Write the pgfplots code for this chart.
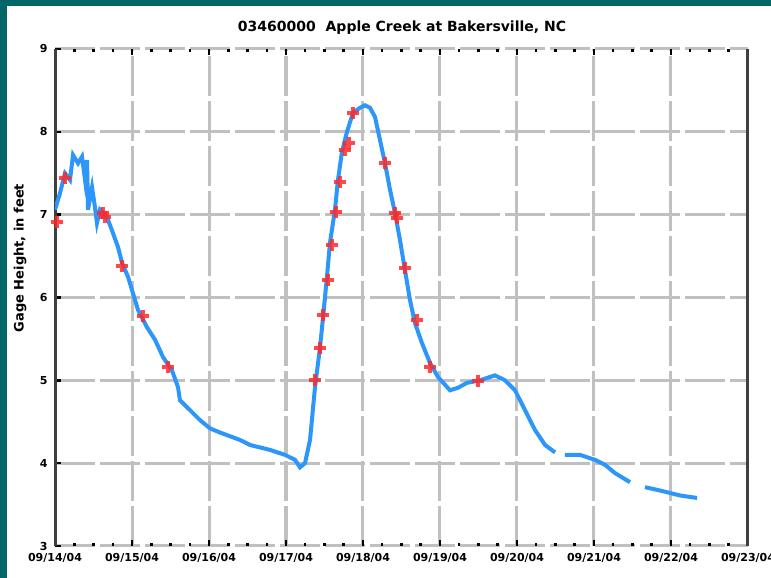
\documentclass[border=0pt]{standalone}
\usepackage{pgfplots}
\pgfplotsset{compat=1.18}
\usepackage{fontspec}
\setmainfont{DejaVu Sans}
\definecolor{framec}{RGB}{0,102,102}
\definecolor{gridc}{RGB}{192,192,192}
\definecolor{lineblue}{RGB}{45,150,250}
\definecolor{markred}{RGB}{255,40,40}
\begin{document}
\begin{tikzpicture}
\fill[framec] (0pt,0pt) rectangle (771pt,578pt);
\fill[white] (7pt,0pt) rectangle (771pt,572pt);
\begin{axis}[
  at={(55pt,32pt)}, anchor=south west, scale only axis,
  width=693pt, height=497pt,
  xmin=0, xmax=9, ymin=3, ymax=9,
  xtick={0,...,9}, minor x tick num=3,
  xticklabels={09/14/04,09/15/04,09/16/04,09/17/04,09/18/04,09/19/04,09/20/04,09/21/04,09/22/04,09/23/04},
  ytick={3,...,9}, ytick pos=left,
  grid=major,
  major grid style={gridc, line width=3pt, dash pattern=on 40pt off 5pt},
  separate axis lines,
  x axis line style={draw=none},
  y axis line style={draw=black!75, line width=3pt},
  tick align=inside,
  major tick length=6pt, minor tick length=3pt,
  every tick/.style={black, line width=2.5pt},
  /pgf/number format/assume math mode=true,
  tick label style={font=\fontsize{11}{13}\selectfont\bfseries},
  xticklabel style={yshift=-4pt},
  yticklabel style={xshift=-4pt},
  clip=true,
]
\addplot[only marks, mark=+, mark size=6pt, markred, opacity=0.85,
  mark options={line width=4pt}] coordinates {
(0.026,6.91) (0.130,7.44) (0.623,7.02) (0.649,6.97) (0.870,6.38)
(1.143,5.78) (1.468,5.16) (3.377,5.00) (3.442,5.39) (3.481,5.79)
(3.545,6.21) (3.597,6.63) (3.649,7.03) (3.701,7.39) (3.766,7.78)
(3.818,7.86) (3.870,8.23) (4.286,7.62) (4.416,7.02) (4.442,6.96)
(4.545,6.36) (4.701,5.73) (4.870,5.16) (5.494,4.99)
};
\addplot[lineblue, line width=4pt, unbounded coords=jump] coordinates {
(0,7.06) (0.065,7.26) (0.130,7.50) (0.195,7.42) (0.234,7.72) (0.299,7.62)
(0.351,7.70) (0.390,7.42) (0.416,7.66) (0.429,7.06) (0.481,7.33) (0.519,7.09)
(0.545,6.90) (0.584,7.06) (0.675,6.97) (0.740,6.81) (0.818,6.61) (0.870,6.42)
(0.948,6.25) (1.013,6.05) (1.078,5.85) (1.195,5.64) (1.299,5.49) (1.403,5.28)
(1.519,5.12) (1.597,4.92) (1.623,4.76) (1.753,4.64) (1.883,4.52) (2.013,4.42)
(2.143,4.37) (2.403,4.28) (2.532,4.22) (2.792,4.16) (2.987,4.10) (3.117,4.04)
(3.182,3.95) (3.247,4.00) (3.312,4.28) (3.377,4.92) (3.442,5.40) (3.481,5.76)
(3.532,6.25) (3.571,6.66) (3.636,7.06) (3.675,7.42) (3.727,7.76) (3.792,8.00)
(3.870,8.23) (3.961,8.29) (4.026,8.32) (4.091,8.29) (4.156,8.18) (4.221,7.90)
(4.286,7.62) (4.351,7.30) (4.416,7.02) (4.481,6.69) (4.545,6.33) (4.610,5.97)
(4.675,5.69) (4.766,5.45) (4.870,5.21) (4.974,5.04) (5.130,4.88) (5.234,4.91)
(5.351,4.97) (5.519,5.00) (5.714,5.06) (5.844,5.00) (5.974,4.88) (6.104,4.64)
(6.234,4.40) (6.364,4.22) (6.494,4.13) (6.55,nan)
(6.623,4.10) (6.818,4.10) (7.013,4.04) (7.143,3.98) (7.273,3.88) (7.468,3.77)
(7.55,nan)
(7.662,3.71) (7.857,3.67) (8.117,3.61) (8.338,3.58)
};
\end{axis}
\node[font=\fontsize{14}{16}\selectfont\bfseries] at (402pt,550pt) {03460000\ \ Apple Creek at Bakersville, NC};
\node[rotate=90, font=\fontsize{13}{15}\selectfont\bfseries] at (20pt,320pt) {Gage Height, in feet};
\pgfresetboundingbox
\useasboundingbox (0pt,0pt) rectangle (771pt,578pt);
\end{tikzpicture}
\end{document}
